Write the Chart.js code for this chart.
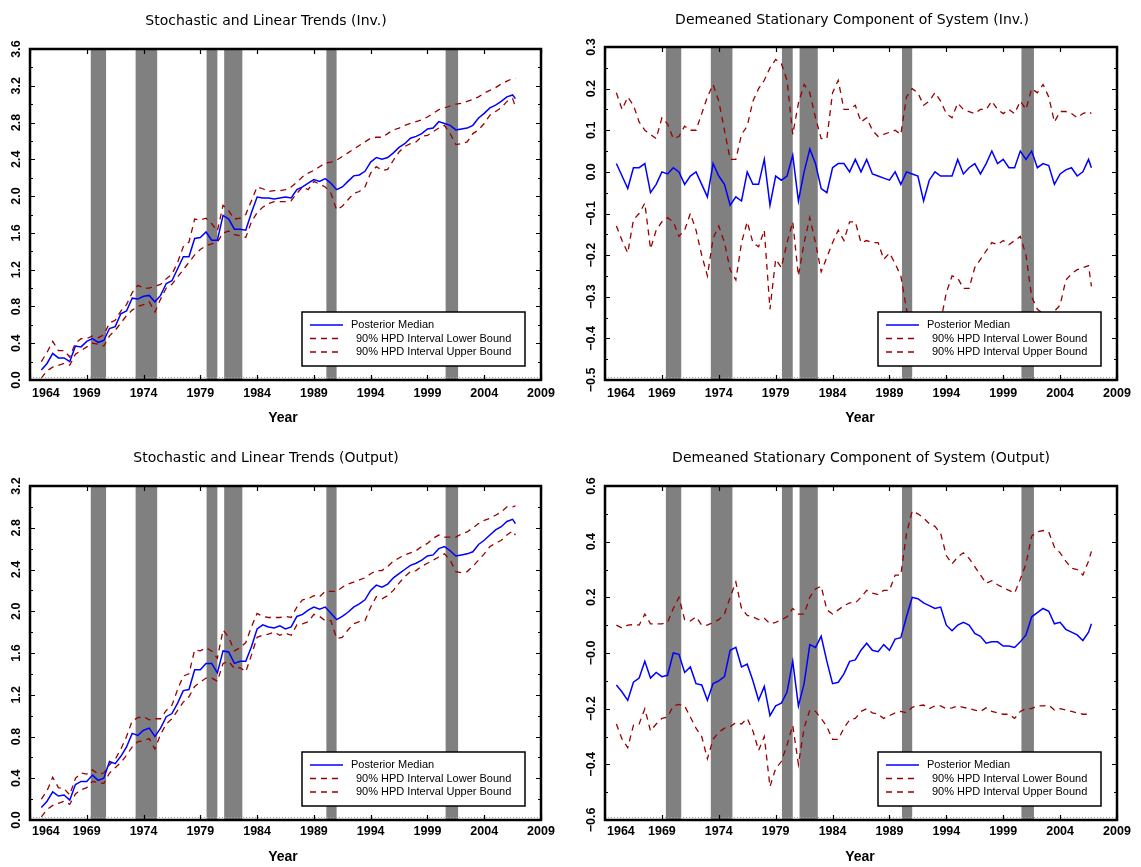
<!DOCTYPE html>
<html>
<head>
<meta charset="utf-8">
<script src="https://cdn.jsdelivr.net/npm/chart.js@4.4.1/dist/chart.umd.min.js"></script>
<style>
  body { margin: 0; background: #fff; }
  #page { position: relative; width: 1141px; height: 867px; background: #fff; }
  canvas { position: absolute; }
</style>
</head>
<body>
<div id="page">
  <canvas id="invTrend" width="570" height="440" style="left:0;top:0;width:570px;height:440px"></canvas>
  <canvas id="invCycle" width="571" height="440" style="left:570px;top:0;width:571px;height:440px"></canvas>
  <canvas id="outTrend" width="570" height="427" style="left:0;top:440px;width:570px;height:427px"></canvas>
  <canvas id="outCycle" width="571" height="427" style="left:570px;top:440px;width:571px;height:427px"></canvas>
</div>
<script>
// semestral grid of the posterior draws
const years = [
  1965, 1965.5, 1966, 1966.5, 1967, 1967.5, 1968, 1968.5, 1969, 1969.5,
  1970, 1970.5, 1971, 1971.5, 1972, 1972.5, 1973, 1973.5, 1974, 1974.5,
  1975, 1975.5, 1976, 1976.5, 1977, 1977.5, 1978, 1978.5, 1979, 1979.5,
  1980, 1980.5, 1981, 1981.5, 1982, 1982.5, 1983, 1983.5, 1984, 1984.5,
  1985, 1985.5, 1986, 1986.5, 1987, 1987.5, 1988, 1988.5, 1989, 1989.5,
  1990, 1990.5, 1991, 1991.5, 1992, 1992.5, 1993, 1993.5, 1994, 1994.5,
  1995, 1995.5, 1996, 1996.5, 1997, 1997.5, 1998, 1998.5, 1999, 1999.5,
  2000, 2000.5, 2001, 2001.5, 2002, 2002.5, 2003, 2003.5, 2004, 2004.5,
  2005, 2005.5, 2006, 2006.5, 2006.75
];

// recession bands
const recessionStart = [1969.35, 1973.3, 1979.55, 1981.1, 1990.1, 2000.6];
const recessionEnd   = [1970.7, 1975.2, 1980.5, 1982.7, 1991.0, 2001.7];

const yearTicks = [1964, 1969, 1974, 1979, 1984, 1989, 1994, 1999, 2004, 2009];
const seriesLabels = ["Posterior Median", "90% HPD Interval Lower Bound", "90% HPD Interval Upper Bound"];

// Stochastic and Linear Trends (Inv.)
const invTrendMedian = [
  0.11, 0.18, 0.29, 0.24, 0.24, 0.20, 0.37, 0.36, 0.42, 0.45,
  0.41, 0.43, 0.56, 0.58, 0.72, 0.75, 0.89, 0.88, 0.91, 0.92,
  0.85, 0.92, 1.05, 1.08, 1.21, 1.34, 1.34, 1.54, 1.55, 1.61,
  1.52, 1.52, 1.79, 1.75, 1.64, 1.64, 1.63, 1.82, 1.99, 1.98,
  1.98, 1.97, 1.98, 1.99, 1.98, 2.07, 2.10, 2.14, 2.18, 2.16,
  2.19, 2.14, 2.07, 2.10, 2.16, 2.22, 2.23, 2.27, 2.37, 2.42,
  2.40, 2.42, 2.47, 2.53, 2.57, 2.63, 2.65, 2.68, 2.73, 2.74,
  2.81, 2.79, 2.77, 2.72, 2.73, 2.74, 2.77, 2.85, 2.90, 2.96,
  2.99, 3.03, 3.08, 3.10, 3.06
];
const invTrendLower = [
  0.02, 0.10, 0.14, 0.16, 0.18, 0.16, 0.28, 0.32, 0.36, 0.40,
  0.39, 0.37, 0.48, 0.54, 0.62, 0.70, 0.76, 0.80, 0.82, 0.85,
  0.74, 0.88, 1.00, 1.04, 1.12, 1.20, 1.28, 1.36, 1.42, 1.46,
  1.48, 1.50, 1.60, 1.62, 1.58, 1.57, 1.55, 1.72, 1.82, 1.88,
  1.92, 1.94, 1.94, 1.94, 1.95, 2.03, 2.10, 2.07, 2.16, 2.13,
  2.10, 2.03, 1.85, 1.89, 1.96, 2.03, 2.05, 2.10, 2.25, 2.32,
  2.28, 2.29, 2.39, 2.48, 2.54, 2.57, 2.59, 2.65, 2.66, 2.70,
  2.74, 2.77, 2.68, 2.56, 2.57, 2.59, 2.68, 2.72, 2.79, 2.88,
  2.92, 2.96, 3.03, 3.06, 2.97
];
const invTrendUpper = [
  0.20, 0.30, 0.42, 0.32, 0.32, 0.25, 0.40, 0.45, 0.45, 0.48,
  0.46, 0.49, 0.62, 0.65, 0.75, 0.82, 0.95, 1.03, 1.00, 1.00,
  1.02, 1.04, 1.10, 1.15, 1.28, 1.45, 1.50, 1.75, 1.74, 1.76,
  1.70, 1.62, 1.90, 1.84, 1.75, 1.76, 1.80, 1.95, 2.10, 2.08,
  2.05, 2.06, 2.06, 2.07, 2.10, 2.15, 2.21, 2.25, 2.28, 2.32,
  2.36, 2.37, 2.39, 2.43, 2.47, 2.51, 2.55, 2.59, 2.63, 2.64,
  2.64, 2.68, 2.72, 2.74, 2.77, 2.79, 2.81, 2.83, 2.86, 2.90,
  2.94, 2.96, 2.98, 3.00, 3.01, 3.03, 3.05, 3.08, 3.12, 3.15,
  3.18, 3.22, 3.25, 3.28, 3.28
];
const invTrendTicks = [0, 0.4, 0.8, 1.2, 1.6, 2.0, 2.4, 2.8, 3.2, 3.6];
const invTrendTickLabels = ["0.0", "0.4", "0.8", "1.2", "1.6", "2.0", "2.4", "2.8", "3.2", "3.6"];

// Demeaned Stationary Component of System (Inv.)
const invCycleMedian = [
  0.02, -0.01, -0.04, 0.01, 0.01, 0.02, -0.05, -0.03, 0.00, -0.005,
  0.01, 0.00, -0.03, -0.01, 0.00, -0.03, -0.06, 0.02, -0.01, -0.03,
  -0.08, -0.06, -0.07, 0.00, -0.03, -0.03, 0.03, -0.08, -0.01, -0.02,
  -0.01, 0.04, -0.07, 0.00, 0.055, 0.02, -0.04, -0.05, 0.01, 0.02,
  0.02, 0.00, 0.03, 0.00, 0.03, -0.005, -0.01, -0.015, -0.02, 0.00,
  -0.03, 0.00, -0.005, -0.01, -0.07, -0.02, 0.00, -0.01, -0.01, -0.01,
  0.03, -0.005, 0.01, 0.02, -0.005, 0.02, 0.05, 0.02, 0.03, 0.01,
  0.01, 0.05, 0.03, 0.05, 0.01, 0.02, 0.015, -0.03, -0.005, 0.005,
  0.01, -0.01, 0.00, 0.03, 0.01
];
const invCycleLower = [
  -0.13, -0.165, -0.195, -0.115, -0.10, -0.075, -0.185, -0.14, -0.12, -0.11,
  -0.12, -0.155, -0.14, -0.10, -0.14, -0.20, -0.25, -0.16, -0.13, -0.17,
  -0.235, -0.26, -0.17, -0.12, -0.17, -0.18, -0.14, -0.33, -0.21, -0.23,
  -0.17, -0.12, -0.25, -0.17, -0.11, -0.17, -0.24, -0.205, -0.17, -0.14,
  -0.165, -0.12, -0.12, -0.17, -0.165, -0.17, -0.17, -0.21, -0.195, -0.22,
  -0.25, -0.33, -0.40, -0.45, -0.45, -0.42, -0.40, -0.36, -0.29, -0.25,
  -0.255, -0.28, -0.28, -0.23, -0.21, -0.19, -0.17, -0.175, -0.165, -0.175,
  -0.165, -0.155, -0.20, -0.30, -0.33, -0.34, -0.34, -0.335, -0.32, -0.26,
  -0.245, -0.235, -0.23, -0.225, -0.275
];
const invCycleUpper = [
  0.19, 0.15, 0.18, 0.16, 0.12, 0.10, 0.09, 0.08, 0.13, 0.115,
  0.08, 0.085, 0.11, 0.10, 0.10, 0.14, 0.18, 0.21, 0.17, 0.10,
  0.03, 0.03, 0.09, 0.11, 0.17, 0.20, 0.22, 0.25, 0.27, 0.26,
  0.22, 0.09, 0.165, 0.21, 0.19, 0.13, 0.08, 0.08, 0.19, 0.22,
  0.15, 0.15, 0.16, 0.12, 0.13, 0.10, 0.085, 0.09, 0.095, 0.10,
  0.09, 0.18, 0.20, 0.19, 0.16, 0.17, 0.19, 0.17, 0.14, 0.13,
  0.165, 0.15, 0.145, 0.14, 0.15, 0.15, 0.17, 0.15, 0.14, 0.15,
  0.14, 0.17, 0.15, 0.20, 0.19, 0.21, 0.18, 0.12, 0.145, 0.145,
  0.14, 0.13, 0.14, 0.145, 0.14
];
const invCycleTicks = [-0.5, -0.4, -0.3, -0.2, -0.1, 0, 0.1, 0.2, 0.3];
const invCycleTickLabels = ["\u22120.5", "\u22120.4", "\u22120.3", "\u22120.2", "\u22120.1", "0.0", "0.1", "0.2", "0.3"];

// Stochastic and Linear Trends (Output)
const outTrendMedian = [
  0.12, 0.18, 0.27, 0.23, 0.24, 0.19, 0.34, 0.37, 0.37, 0.43,
  0.38, 0.40, 0.56, 0.54, 0.61, 0.70, 0.83, 0.81, 0.86, 0.88,
  0.80, 0.88, 0.99, 1.02, 1.12, 1.24, 1.25, 1.44, 1.44, 1.50,
  1.50, 1.41, 1.62, 1.61, 1.50, 1.52, 1.52, 1.66, 1.83, 1.87,
  1.85, 1.84, 1.86, 1.83, 1.85, 1.95, 1.97, 2.01, 2.04, 2.02,
  2.04, 1.98, 1.92, 1.95, 1.99, 2.04, 2.07, 2.11, 2.20, 2.25,
  2.23, 2.26, 2.32, 2.36, 2.40, 2.44, 2.46, 2.49, 2.53, 2.54,
  2.60, 2.62, 2.58, 2.53, 2.54, 2.55, 2.57, 2.64, 2.68, 2.73,
  2.78, 2.81, 2.86, 2.88, 2.84
];
const outTrendLower = [
  0.03, 0.10, 0.14, 0.16, 0.18, 0.15, 0.25, 0.29, 0.31, 0.37,
  0.36, 0.35, 0.45, 0.50, 0.55, 0.62, 0.70, 0.75, 0.76, 0.78,
  0.68, 0.82, 0.92, 0.97, 1.05, 1.13, 1.18, 1.28, 1.32, 1.36,
  1.36, 1.33, 1.50, 1.52, 1.45, 1.46, 1.42, 1.58, 1.75, 1.77,
  1.78, 1.80, 1.77, 1.79, 1.77, 1.87, 1.88, 1.90, 1.97, 1.95,
  1.91, 1.91, 1.74, 1.75, 1.82, 1.88, 1.90, 1.91, 2.04, 2.14,
  2.12, 2.15, 2.20, 2.27, 2.33, 2.38, 2.39, 2.43, 2.46, 2.49,
  2.52, 2.55, 2.49, 2.38, 2.37, 2.38, 2.43, 2.49, 2.55, 2.62,
  2.65, 2.68, 2.73, 2.77, 2.73
];
const outTrendUpper = [
  0.20, 0.28, 0.41, 0.31, 0.30, 0.24, 0.40, 0.45, 0.44, 0.48,
  0.44, 0.45, 0.53, 0.58, 0.68, 0.80, 0.95, 0.98, 0.99, 0.96,
  0.97, 0.97, 1.05, 1.10, 1.25, 1.38, 1.40, 1.63, 1.62, 1.65,
  1.62, 1.55, 1.82, 1.75, 1.62, 1.65, 1.70, 1.85, 1.98, 1.95,
  1.94, 1.94, 1.94, 1.95, 1.94, 2.04, 2.11, 2.12, 2.15, 2.14,
  2.19, 2.19, 2.19, 2.23, 2.26, 2.28, 2.30, 2.32, 2.36, 2.39,
  2.39, 2.43, 2.48, 2.51, 2.54, 2.56, 2.58, 2.62, 2.65, 2.70,
  2.73, 2.71, 2.71, 2.71, 2.74, 2.76, 2.80, 2.84, 2.87, 2.89,
  2.92, 2.95, 3.00, 3.00, 3.01
];
const outTrendTicks = [0, 0.4, 0.8, 1.2, 1.6, 2.0, 2.4, 2.8, 3.2];
const outTrendTickLabels = ["0.0", "0.4", "0.8", "1.2", "1.6", "2.0", "2.4", "2.8", "3.2"];

// Demeaned Stationary Component of System (Output)
const outCycleMedian = [
  -0.115, -0.14, -0.17, -0.105, -0.09, -0.03, -0.09, -0.07, -0.085, -0.08,
  0.00, -0.005, -0.07, -0.05, -0.11, -0.115, -0.17, -0.11, -0.10, -0.085,
  0.01, 0.02, -0.05, -0.04, -0.10, -0.17, -0.12, -0.225, -0.19, -0.18,
  -0.14, -0.03, -0.19, -0.11, 0.03, 0.02, 0.06, -0.03, -0.11, -0.105,
  -0.075, -0.03, -0.025, 0.01, 0.035, 0.01, 0.005, 0.03, 0.01, 0.05,
  0.055, 0.13, 0.20, 0.195, 0.18, 0.17, 0.16, 0.165, 0.10, 0.08,
  0.10, 0.11, 0.10, 0.07, 0.06, 0.035, 0.04, 0.04, 0.025, 0.025,
  0.02, 0.04, 0.065, 0.13, 0.145, 0.16, 0.15, 0.105, 0.11, 0.085,
  0.075, 0.065, 0.045, 0.075, 0.105
];
const outCycleLower = [
  -0.255, -0.31, -0.34, -0.26, -0.255, -0.20, -0.28, -0.255, -0.235, -0.23,
  -0.19, -0.185, -0.19, -0.23, -0.27, -0.30, -0.38, -0.31, -0.285, -0.27,
  -0.265, -0.25, -0.255, -0.235, -0.28, -0.35, -0.30, -0.48, -0.415, -0.39,
  -0.33, -0.26, -0.40, -0.27, -0.205, -0.21, -0.235, -0.265, -0.31, -0.31,
  -0.27, -0.24, -0.235, -0.21, -0.20, -0.215, -0.22, -0.235, -0.225, -0.215,
  -0.21, -0.215, -0.195, -0.19, -0.187, -0.20, -0.19, -0.19, -0.20, -0.197,
  -0.19, -0.195, -0.20, -0.205, -0.21, -0.197, -0.21, -0.215, -0.22, -0.22,
  -0.235, -0.21, -0.20, -0.20, -0.19, -0.19, -0.187, -0.205, -0.20, -0.205,
  -0.21, -0.215, -0.22, -0.22, -0.215
];
const outCycleUpper = [
  0.10, 0.09, 0.10, 0.102, 0.10, 0.14, 0.105, 0.105, 0.105, 0.11,
  0.16, 0.20, 0.12, 0.115, 0.13, 0.10, 0.10, 0.11, 0.12, 0.14,
  0.20, 0.255, 0.16, 0.135, 0.13, 0.12, 0.125, 0.105, 0.11, 0.12,
  0.13, 0.16, 0.14, 0.14, 0.20, 0.23, 0.24, 0.155, 0.14, 0.155,
  0.17, 0.18, 0.18, 0.20, 0.225, 0.215, 0.21, 0.225, 0.225, 0.28,
  0.28, 0.43, 0.51, 0.50, 0.485, 0.465, 0.455, 0.43, 0.35, 0.32,
  0.345, 0.36, 0.34, 0.31, 0.28, 0.25, 0.26, 0.245, 0.235, 0.225,
  0.215, 0.265, 0.32, 0.42, 0.435, 0.44, 0.435, 0.38, 0.36, 0.33,
  0.305, 0.30, 0.28, 0.33, 0.365
];
const outCycleTicks = [-0.6, -0.4, -0.2, 0, 0.2, 0.4, 0.6];
const outCycleTickLabels = ["\u22120.6", "\u22120.4", "\u22120.2", "\u22120.0", "0.2", "0.4", "0.6"];

// draws recession bands, frame, inward ticks, labels, title and legend box
const panelFrame = {
  id: "panelFrame",
  beforeDatasetsDraw(chart, args, opts) {
    const { ctx, chartArea: a, scales: { x } } = chart;
    ctx.save();
    ctx.fillStyle = "#808080";
    recessionStart.forEach((s, i) => {
      const x1 = x.getPixelForValue(s);
      const x2 = x.getPixelForValue(recessionEnd[i]);
      ctx.fillRect(x1, a.top, x2 - x1, a.bottom - a.top);
    });
    ctx.restore();
  },
  afterDatasetsDraw(chart, args, opts) {
    const { ctx, chartArea: a, scales: { x, y } } = chart;
    ctx.save();

    // dotted base line
    ctx.strokeStyle = "#aaaaaa";
    ctx.lineWidth = 1;
    ctx.setLineDash([1, 2]);
    ctx.beginPath();
    ctx.moveTo(a.left, a.bottom - 2.5);
    ctx.lineTo(a.right, a.bottom - 2.5);
    ctx.stroke();
    ctx.setLineDash([]);

    // ticks
    ctx.strokeStyle = "#000";
    ctx.lineWidth = 1.2;
    ctx.beginPath();
    yearTicks.forEach(v => {
      const px = Math.round(x.getPixelForValue(v)) + 0.5;
      ctx.moveTo(px, a.bottom); ctx.lineTo(px, a.bottom - 5);
      ctx.moveTo(px, a.top); ctx.lineTo(px, a.top + 5);
    });
    const yt = opts.yTicks;
    yt.forEach((v, i) => {
      const py = Math.round(y.getPixelForValue(v)) + 0.5;
      ctx.moveTo(a.left, py); ctx.lineTo(a.left + 5, py);
      ctx.moveTo(a.right, py); ctx.lineTo(a.right - 5, py);
      if (i < yt.length - 1) {
        const pm = Math.round((y.getPixelForValue(v) + y.getPixelForValue(yt[i + 1])) / 2) + 0.5;
        ctx.moveTo(a.left, pm); ctx.lineTo(a.left + 3, pm);
        ctx.moveTo(a.right, pm); ctx.lineTo(a.right - 3, pm);
      }
    });
    ctx.stroke();

    // frame
    ctx.lineWidth = 2.5;
    ctx.strokeRect(a.left, a.top, a.right - a.left, a.bottom - a.top);

    ctx.fillStyle = "#000";
    // y labels, rotated
    ctx.font = "bold 12.5px 'Liberation Sans', Arial, sans-serif";
    ctx.textAlign = "center";
    ctx.textBaseline = "middle";
    yt.forEach((v, i) => {
      ctx.save();
      ctx.translate(a.left - 13, y.getPixelForValue(v));
      ctx.rotate(-Math.PI / 2);
      ctx.fillText(opts.yTickLabels[i], 0, 0);
      ctx.restore();
    });

    // x labels
    yearTicks.forEach((v, i) => {
      const px = x.getPixelForValue(v);
      if (i === 0) {
        ctx.textAlign = "left";
        ctx.fillText(String(v), a.left + 2, a.bottom + opts.tickGap);
      } else {
        ctx.textAlign = "center";
        ctx.fillText(String(v), px, a.bottom + opts.tickGap);
      }
    });

    // axis title
    ctx.textAlign = "center";
    ctx.font = "bold 14px 'Liberation Sans', Arial, sans-serif";
    ctx.fillText("Year", opts.yearX, opts.yearY);

    // panel title
    ctx.font = "14px 'DejaVu Sans', sans-serif";
    ctx.fillText(opts.title, opts.titleX, opts.titleY);

    // legend box
    const lr = a.right - 16, lb = a.bottom - 14;
    const ll = lr - 223, lt = lb - 54;
    ctx.fillStyle = "#fff";
    ctx.fillRect(ll, lt, lr - ll, lb - lt);
    ctx.strokeStyle = "#000";
    ctx.lineWidth = 1.5;
    ctx.strokeRect(ll, lt, lr - ll, lb - lt);
    ctx.font = "11px 'Liberation Sans', Arial, sans-serif";
    ctx.textAlign = "left";
    chart.data.datasets.forEach((ds, i) => {
      const ry = lt + 13 + i * 13.5;
      ctx.strokeStyle = ds.borderColor;
      ctx.lineWidth = ds.borderWidth;
      ctx.setLineDash(ds.borderDash || []);
      ctx.beginPath();
      ctx.moveTo(ll + 8, ry);
      ctx.lineTo(ll + 41, ry);
      ctx.stroke();
      ctx.setLineDash([]);
      ctx.fillStyle = "#000";
      ctx.fillText(ds.label, ll + (i === 0 ? 49 : 54), ry);
    });
    ctx.restore();
  }
};

function buildPanel(id, title, median, lower, upper, yTicks, yTickLabels, frame) {
  const pts = arr => years.map((yr, i) => ({ x: yr, y: arr[i] }));
  const canvas = document.getElementById(id);
  return new Chart(canvas, {
    type: "line",
    data: {
      datasets: [
        { label: seriesLabels[0], data: pts(median), borderColor: "#0000ff", borderWidth: 1.5 },
        { label: seriesLabels[1], data: pts(lower), borderColor: "#990000", borderWidth: 1.3, borderDash: [6, 5] },
        { label: seriesLabels[2], data: pts(upper), borderColor: "#990000", borderWidth: 1.3, borderDash: [6, 5] }
      ]
    },
    options: {
      responsive: false,
      animation: false,
      layout: { padding: { top: frame.top, right: frame.right, left: 0, bottom: 0 } },
      elements: { point: { radius: 0 }, line: { tension: 0, fill: false } },
      plugins: {
        legend: { display: false },
        tooltip: { enabled: false },
        panelFrame: {
          title: title, titleX: frame.titleX, titleY: frame.titleY,
          yearX: frame.yearX, yearY: frame.yearY, tickGap: frame.tickGap,
          yTicks: yTicks, yTickLabels: yTickLabels
        }
      },
      scales: {
        x: {
          type: "linear", min: yearTicks[0], max: yearTicks[yearTicks.length - 1],
          grid: { display: false }, border: { display: false }, ticks: { display: false },
          afterFit: s => { s.height = canvas.height - frame.bottom; }
        },
        y: {
          type: "linear", min: yTicks[0], max: yTicks[yTicks.length - 1],
          grid: { display: false }, border: { display: false }, ticks: { display: false },
          afterFit: s => { s.width = frame.left; }
        }
      }
    },
    plugins: [panelFrame]
  });
}

buildPanel("invTrend", "Stochastic and Linear Trends (Inv.)",
  invTrendMedian, invTrendLower, invTrendUpper, invTrendTicks, invTrendTickLabels,
  { left: 30, right: 29, top: 49, bottom: 380, titleX: 266, titleY: 21, yearX: 283, yearY: 418, tickGap: 14 });

buildPanel("invCycle", "Demeaned Stationary Component of System (Inv.)",
  invCycleMedian, invCycleLower, invCycleUpper, invCycleTicks, invCycleTickLabels,
  { left: 35, right: 24, top: 47, bottom: 380, titleX: 282, titleY: 20, yearX: 290, yearY: 418, tickGap: 14 });

buildPanel("outTrend", "Stochastic and Linear Trends (Output)",
  outTrendMedian, outTrendLower, outTrendUpper, outTrendTicks, outTrendTickLabels,
  { left: 30, right: 29, top: 46, bottom: 380, titleX: 266, titleY: 18, yearX: 283, yearY: 417, tickGap: 12 });

buildPanel("outCycle", "Demeaned Stationary Component of System (Output)",
  outCycleMedian, outCycleLower, outCycleUpper, outCycleTicks, outCycleTickLabels,
  { left: 35, right: 24, top: 46, bottom: 380, titleX: 291, titleY: 18, yearX: 290, yearY: 417, tickGap: 12 });
</script>
</body>
</html>
